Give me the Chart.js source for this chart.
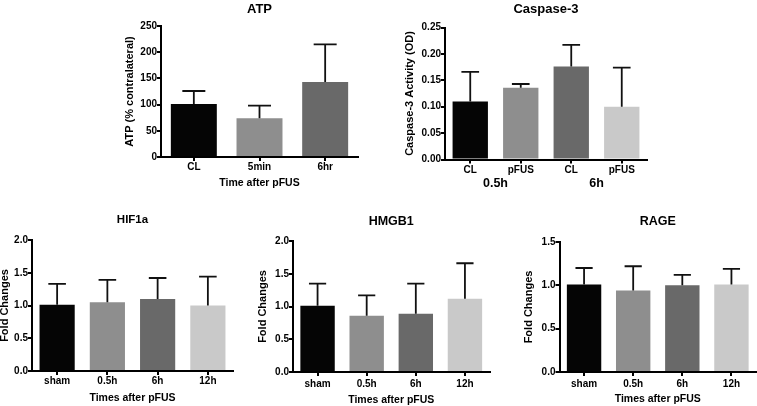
<!DOCTYPE html>
<html>
<head>
<meta charset="utf-8">
<script src="https://cdn.jsdelivr.net/npm/chart.js@4.4.1/dist/chart.umd.min.js"></script>
<style>
  html, body { margin: 0; padding: 0; background: #fff; }
  #wrap { position: relative; width: 757px; height: 406px; }
  #wrap canvas { position: absolute; left: 0; top: 0; }
</style>
</head>
<body>
<div id="wrap">
  <canvas id="atpChart" width="757" height="406"></canvas>
  <canvas id="caspChart" width="757" height="406"></canvas>
  <canvas id="hifChart" width="757" height="406"></canvas>
  <canvas id="hmgbChart" width="757" height="406"></canvas>
  <canvas id="rageChart" width="757" height="406"></canvas>
</div>
<script>
// ---- data (mean, and SD as the upper error bar) ----
const atpLabels = ['CL', '5min', '6hr'];
const atpMeans = [101, 74, 143];
const atpSD = [25, 24, 72];

const caspLabels = ['CL', 'pFUS', 'CL', 'pFUS'];
const caspGroups = ['0.5h', '6h'];
const caspMeans = [0.110, 0.136, 0.176, 0.100];
const caspSD = [0.056, 0.007, 0.041, 0.074];

const timeLabels = ['sham', '0.5h', '6h', '12h'];
const hifMeans = [1.01, 1.05, 1.10, 1.00];
const hifSD = [0.32, 0.34, 0.32, 0.44];
const hmgbMeans = [1.01, 0.86, 0.89, 1.12];
const hmgbSD = [0.34, 0.31, 0.46, 0.54];
const rageMeans = [1.01, 0.94, 1.00, 1.01];
const rageSD = [0.19, 0.28, 0.12, 0.18];

const greys = ['#050505', '#8e8e8e', '#696969', '#c9c9c9'];

const W = 757, H = 406;
const FONT = '"Liberation Sans", Arial, Helvetica, sans-serif';

// upper-only error bars with a cap half the bar width
const errorBars = {
  id: 'errorBars',
  afterDatasetsDraw(chart) {
    const ctx = chart.ctx;
    const y = chart.scales.y;
    const ds = chart.data.datasets[0];
    ctx.save();
    ctx.strokeStyle = '#111';
    ctx.lineWidth = 1.8;
    chart.getDatasetMeta(0).data.forEach((bar, i) => {
      const top = y.getPixelForValue(ds.data[i] + ds.sd[i]);
      const half = bar.width / 4;
      ctx.beginPath();
      ctx.moveTo(bar.x, bar.y);
      ctx.lineTo(bar.x, top);
      ctx.moveTo(bar.x - half, top);
      ctx.lineTo(bar.x + half, top);
      ctx.stroke();
    });
    ctx.restore();
  }
};

// second row of x labels for the caspase panel (0.5h / 6h)
const groupLabels = {
  id: 'groupLabels',
  afterDraw(chart) {
    const ctx = chart.ctx;
    const x = chart.scales.x;
    ctx.save();
    ctx.fillStyle = '#000';
    ctx.font = 'bold 12.5px ' + FONT;
    ctx.textAlign = 'center';
    ctx.textBaseline = 'middle';
    caspGroups.forEach((g, i) => {
      const cx = (x.getPixelForValue(2 * i) + x.getPixelForValue(2 * i + 1)) / 2;
      ctx.fillText(g, cx, 183.5);
    });
    ctx.restore();
  }
};

function panel(id, o) {
  const axisCommon = {
    grid: { display: true, drawOnChartArea: false, tickLength: 4, color: '#000', lineWidth: 2 },
    border: { display: true, color: '#000', width: 2 }
  };
  return new Chart(document.getElementById(id), {
    type: 'bar',
    data: {
      labels: o.labels,
      datasets: [{
        data: o.means,
        sd: o.sd,
        backgroundColor: greys.slice(0, o.means.length),
        borderWidth: 0,
        barPercentage: 0.7,
        categoryPercentage: 1
      }]
    },
    options: {
      responsive: false,
      animation: false,
      events: [],
      layout: { padding: { left: 0, top: 0, bottom: 0, right: W - o.right } },
      plugins: {
        legend: { display: false },
        tooltip: { enabled: false },
        title: {
          display: true,
          text: o.title,
          fullSize: false,
          color: '#000',
          font: { family: FONT, size: o.titleSize, weight: 'bold' },
          padding: { top: o.titleY - o.titleSize * 0.6, bottom: o.top - o.titleY - o.titleSize * 0.6 }
        }
      },
      scales: {
        x: {
          ...axisCommon,
          grid: { ...axisCommon.grid, offset: false },
          ticks: { color: '#000', padding: o.xPad, font: { family: FONT, size: 10, weight: 'bold' } },
          title: o.xTitle ? {
            display: true, text: o.xTitle, color: '#000',
            font: { family: FONT, size: 10.5, weight: 'bold' },
            padding: { top: 0, bottom: H - o.xTitleY - 6.3 }
          } : { display: false },
          afterFit: s => { s.height = H - o.bottom; }
        },
        y: {
          ...axisCommon,
          min: 0,
          max: o.max,
          ticks: {
            color: '#000', padding: 0, stepSize: o.step,
            font: { family: FONT, size: 10, weight: 'bold' },
            callback: v => Number(v).toFixed(o.dec)
          },
          title: {
            display: true, text: o.yTitle, color: '#000',
            font: { family: FONT, size: 11, weight: 'bold' },
            padding: { top: o.yTitleX - 6.6, bottom: 0 }
          },
          afterFit: s => { s.width = o.left; }
        }
      }
    },
    plugins: [errorBars].concat(o.extra || [])
  });
}

panel('atpChart', {
  labels: atpLabels, means: atpMeans, sd: atpSD,
  title: 'ATP', titleSize: 13, titleY: 9,
  left: 161, right: 358, top: 26, bottom: 157,
  max: 250, step: 50, dec: 0,
  yTitle: 'ATP (% contralateral)', yTitleX: 130,
  xTitle: 'Time after pFUS', xTitleY: 183, xPad: 0
});

panel('caspChart', {
  labels: caspLabels, means: caspMeans, sd: caspSD,
  title: 'Caspase-3', titleSize: 13, titleY: 9.5,
  left: 445, right: 647, top: 27.5, bottom: 159.5,
  max: 0.25, step: 0.05, dec: 2,
  yTitle: 'Caspase-3 Activity (OD)', yTitleX: 410,
  xTitle: null, xPad: 1,
  extra: [groupLabels]
});

panel('hifChart', {
  labels: timeLabels, means: hifMeans, sd: hifSD,
  title: 'HIF1a', titleSize: 11.5, titleY: 220,
  left: 32, right: 233, top: 240, bottom: 371,
  max: 2, step: 0.5, dec: 1,
  yTitle: 'Fold Changes', yTitleX: 5,
  xTitle: 'Times after pFUS', xTitleY: 397.7, xPad: 0
});

panel('hmgbChart', {
  labels: timeLabels, means: hmgbMeans, sd: hmgbSD,
  title: 'HMGB1', titleSize: 12.5, titleY: 221.7,
  left: 293, right: 489.5, top: 241, bottom: 372,
  max: 2, step: 0.5, dec: 1,
  yTitle: 'Fold Changes', yTitleX: 263.3,
  xTitle: 'Times after pFUS', xTitleY: 400, xPad: 2
});

panel('rageChart', {
  labels: timeLabels, means: rageMeans, sd: rageSD,
  title: 'RAGE', titleSize: 12.5, titleY: 221.7,
  left: 559.5, right: 756, top: 242, bottom: 372,
  max: 1.5, step: 0.5, dec: 1,
  yTitle: 'Fold Changes', yTitleX: 529.3,
  xTitle: 'Times after pFUS', xTitleY: 399, xPad: 2
});
</script>
</body>
</html>
